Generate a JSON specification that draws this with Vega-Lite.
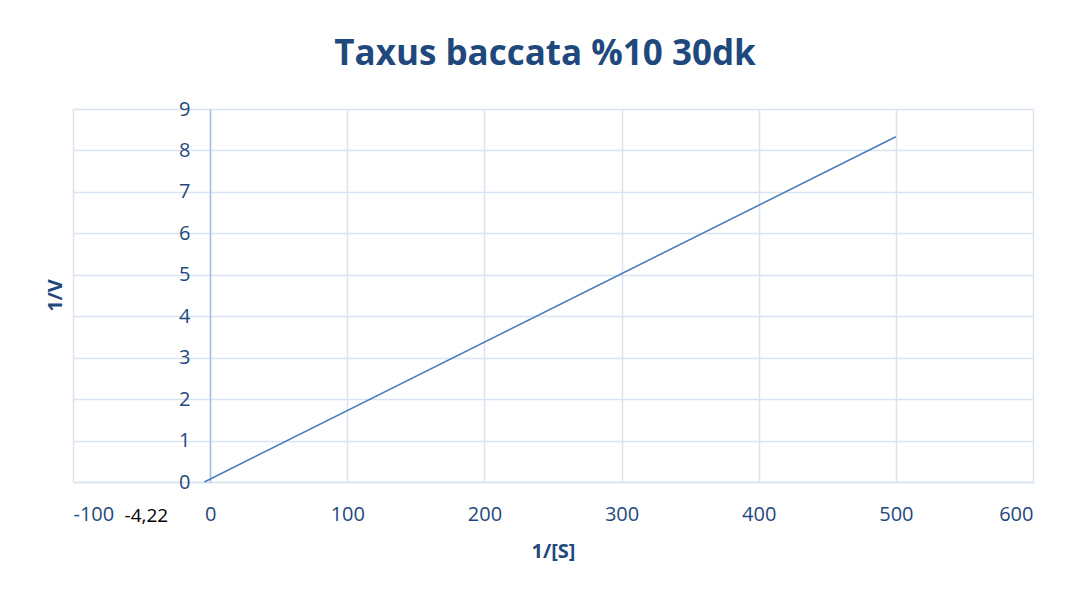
{
  "$schema": "https://vega.github.io/schema/vega-lite/v6.json",
  "width": 960,
  "height": 373,
  "autosize": "none",
  "padding": {"left": 73, "top": 109, "right": 51, "bottom": 115},
  "background": "white",
  "title": {
    "text": "Taxus baccata %10 30dk",
    "font": "Open Sans",
    "fontSize": 35,
    "fontWeight": "bold",
    "color": "#1F497D",
    "anchor": "middle",
    "offset": 27,
    "dx": -8
  },
  "data": {
    "values": [
      {"x": -4.22, "y": 0, "label": "-4,22"},
      {"x": 500, "y": 8.33, "label": ""}
    ]
  },
  "config": {
    "view": {"stroke": null},
    "axis": {
      "labelFont": "Open Sans",
      "labelFontSize": 20,
      "labelColor": "#1F497D",
      "titleFont": "Open Sans",
      "titleFontSize": 20,
      "titleFontWeight": "bold",
      "titleColor": "#1F497D",
      "gridColor": "#D9E3F2",
      "gridWidth": 1.5,
      "gridOpacity": 1,
      "ticks": false
    }
  },
  "encoding": {
    "x": {
      "field": "x",
      "type": "quantitative",
      "scale": {"domain": [-100, 600], "nice": false, "zero": false},
      "axis": {
        "title": "1/[S]",
        "values": [-100, 0, 100, 200, 300, 400, 500, 600],
        "labelExpr": "datum.value + ''",
        "labelPadding": 22,
        "domainColor": "#D9E3F2",
        "domainWidth": 1.5,
        "titleY": 69,
        "titleBaseline": "middle"
      }
    },
    "y": {
      "field": "y",
      "type": "quantitative",
      "scale": {"domain": [0, 9], "nice": false},
      "axis": {
        "title": "1/V",
        "values": [0, 1, 2, 3, 4, 5, 6, 7, 8, 9],
        "offset": -137,
        "labelPadding": 20,
        "domainColor": "#A3BFE4",
        "domainWidth": 1.5,
        "titleX": -155,
        "titleY": 186,
        "titleAlign": "center",
        "titleBaseline": "middle",
        "titleAngle": -90
      }
    }
  },
  "layer": [
    {
      "mark": {"type": "line", "color": "#4A7EBB", "strokeWidth": 1.6}
    },
    {
      "transform": [{"filter": "datum.label != ''"}],
      "mark": {
        "type": "text",
        "font": "Open Sans",
        "fontSize": 19,
        "color": "#000000",
        "dx": -58,
        "dy": 34,
        "align": "center",
        "baseline": "middle"
      },
      "encoding": {"text": {"field": "label"}}
    }
  ]
}
